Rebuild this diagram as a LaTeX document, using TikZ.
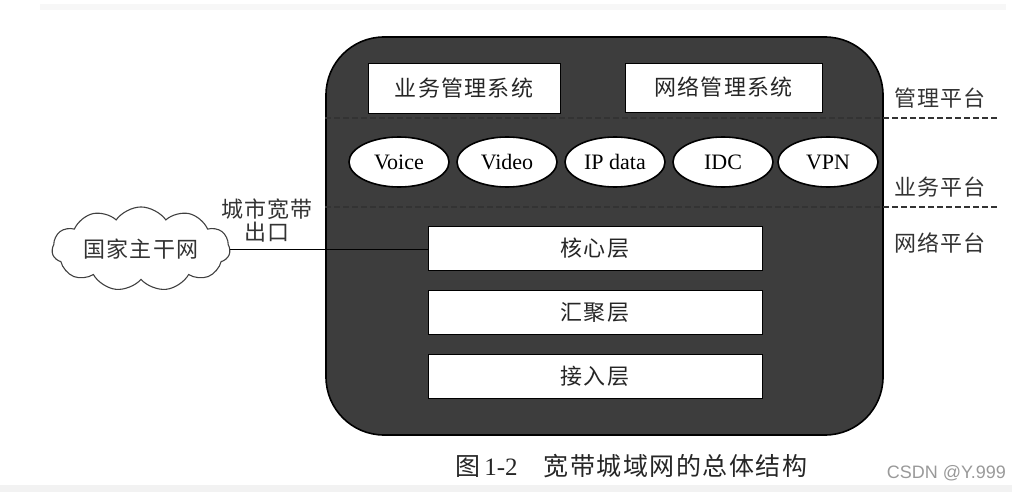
\documentclass[tikz,border=0pt]{standalone}
\usepackage{fontspec}
\setmainfont{Liberation Serif}
\newfontfamily\cjk[LetterSpace=6]{Noto Sans CJK SC}
\newfontfamily\csdnfont{Liberation Sans}
\usetikzlibrary{shapes.geometric,shapes.symbols}
\definecolor{boxgray}{HTML}{3D3D3D}
\begin{document}
\begin{tikzpicture}[x=1pt,y=-1pt,
  whitebox/.style={draw=black,line width=0.8pt,fill=white,inner sep=0pt,
    font=\cjk\fontsize{22}{24}\selectfont,text=black!85},
  svc/.style={ellipse,draw=black,line width=1.6pt,fill=white,minimum width=100pt,
    minimum height=50pt,inner sep=0pt,font=\fontsize{22}{24}\selectfont},
  lbl/.style={font=\cjk\fontsize{22}{24}\selectfont,text=black!80,inner sep=0pt},
  sepline/.style={dash pattern=on 6pt off 3pt,line width=1.2pt,draw=black!80}]
\useasboundingbox (0,0) rectangle (1012,492);
\fill[black!3] (40,4) rectangle (1006,10);
\fill[black!5] (0,485) rectangle (1012,492);

% outer frame
\node[draw=black,line width=1.6pt,fill=boxgray,rounded corners=58pt,
  minimum width=557pt,minimum height=398pt,inner sep=0pt] (frame) at (604.5,236) {};

% platform separators
\coordinate (d1) at (1000,118);
\coordinate (d2) at (1000,207);
\draw[sepline] (frame.west |- d1) -- (d1);
\draw[sepline] (frame.west |- d2) -- (d2);

% management systems
\node[whitebox,minimum width=192pt,minimum height=50pt] (bms) at (464,88) {业务管理系统};
\node[whitebox,minimum width=197pt,minimum height=49pt] (nms) at (723.5,87.5) {网络管理系统};

% services
\node[svc] (voice) at (399,162) {Voice};
\node[svc] (video) at (507,162) {Video};
\node[svc] (ipdata) at (615,162) {IP data};
\node[svc] (idc) at (723,162) {IDC};
\node[svc] (vpn) at (828,162) {VPN};

% layers
\node[whitebox,minimum width=334pt,minimum height=44pt] (core) at (595,248) {核心层};
\node[whitebox,minimum width=334pt,minimum height=44pt] (agg) at (595,312) {汇聚层};
\node[whitebox,minimum width=334pt,minimum height=44pt] (acc) at (595,376) {接入层};

% platform labels
\node[lbl] (mgmt) at (940,98) {管理平台};
\node[lbl] (svcp) at (940,187) {业务平台};
\node[lbl] (netp) at (940,243) {网络平台};

% backbone cloud
\node[cloud,cloud puffs=11,cloud puff arc=110,aspect=2.6,draw=black!75,line width=1.1pt,
  minimum width=178pt,minimum height=68pt,inner sep=0pt,
  font=\cjk\fontsize{22}{24}\selectfont,text=black!80] (cloud) at (141,249) {国家主干网};
\draw[line width=1pt] (cloud.east) -- (cloud.east -| core.west);
\node[lbl,align=center,font=\cjk\fontsize{22}{23}\selectfont] (exit) at (267,221) {城市宽带\\出口};

% caption
\node[anchor=west,inner sep=0pt,font=\fontsize{25}{27}\selectfont,text=black!85] (cap) at (455,466)
  {{\cjk 图}\,1-2\hspace{26pt}{\cjk 宽带城域网的总体结构}};
\node[anchor=east,inner sep=0pt,font=\csdnfont\fontsize{18}{20}\selectfont,text=black!40] (wm) at (1006,473) {CSDN @Y.999};
\end{tikzpicture}
\end{document}
